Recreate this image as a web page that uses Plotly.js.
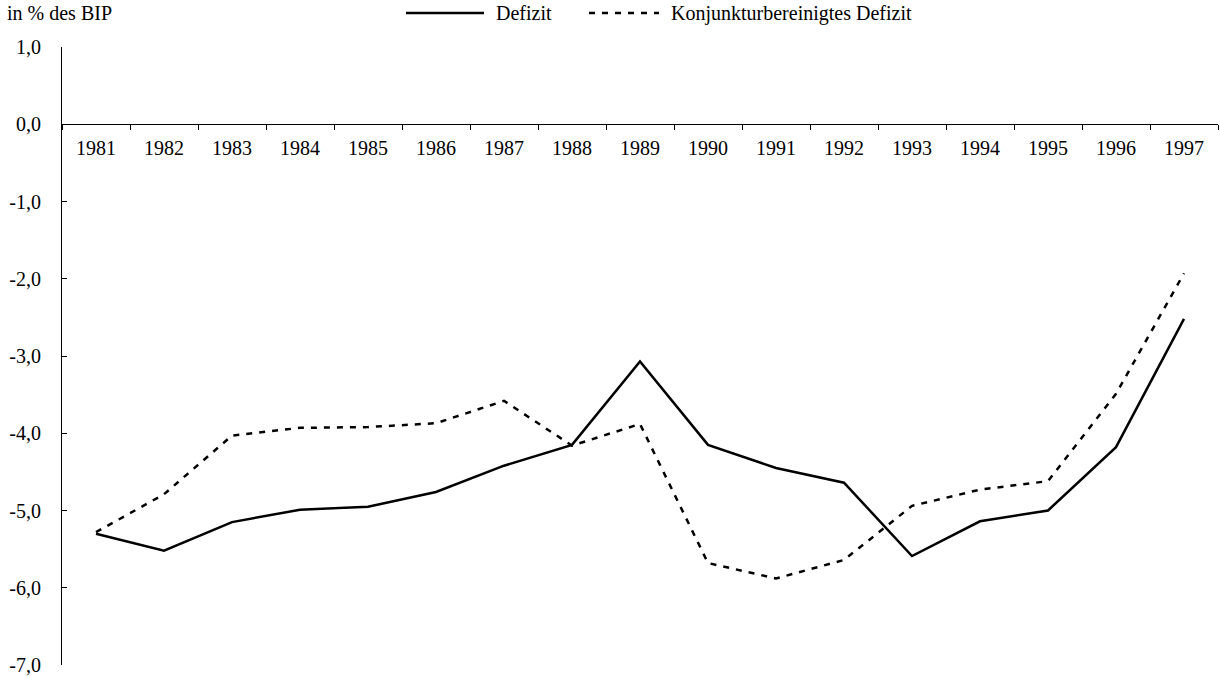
<!DOCTYPE html>
<html><head><meta charset="utf-8">
<script src="https://cdn.plot.ly/plotly-3.0.1.min.js"></script>
<style>body{margin:0;background:#fff}#chart{width:1220px;height:676px}</style>
</head><body><div id="chart"></div>
<script>
const years = ['1981','1982','1983','1984','1985','1986','1987','1988','1989','1990','1991','1992','1993','1994','1995','1996','1997'];
const defizit = [-5.30,-5.52,-5.15,-4.99,-4.95,-4.76,-4.42,-4.15,-3.07,-4.15,-4.45,-4.64,-5.59,-5.14,-5.00,-4.18,-2.52];
const konjDefizit = [-5.28,-4.79,-4.03,-3.93,-3.92,-3.87,-3.58,-4.16,-3.88,-5.68,-5.88,-5.64,-4.94,-4.73,-4.62,-3.49,-1.93];
const seriesNames = ['Defizit','Konjunkturbereinigtes Defizit'];
const yTickVals = [-7,-6,-5,-4,-3,-2,-1,0,1];
const yTickText = ['-7,0','-6,0','-5,0','-4,0','-3,0','-2,0','-1,0','0,0','1,0'];
const yTitle = 'in % des BIP';

const font = {family:'"Liberation Serif", "Times New Roman", serif', size:20, color:'#000'};

const traces = [
  {x:years, y:defizit, type:'scatter', mode:'lines', name:seriesNames[0],
   line:{color:'#000', width:2.5}, showlegend:false},
  {x:years, y:konjDefizit, type:'scatter', mode:'lines', name:seriesNames[1],
   line:{color:'#000', width:2.5, dash:'6px,7px'}, showlegend:false}
];

const legY = 1 + (47 - 13) / 618;
const px = v => (v - 62) / 1156;

const layout = {
  width:1220, height:676,
  margin:{l:62, r:2, t:47, b:11},
  paper_bgcolor:'#fff', plot_bgcolor:'#fff',
  font:font,
  showlegend:false,
  xaxis:{type:'category', range:[-0.5,16.5], anchor:'free', position:0.875,
    showline:true, linecolor:'#000', linewidth:1, showgrid:false, zeroline:false,
    ticks:'outside', tickson:'boundaries', ticklen:5, tickcolor:'#000', tickwidth:1,
    ticklabelstandoff:6, tickfont:font, fixedrange:true},
  yaxis:{range:[-7,1], tickmode:'array', tickvals:yTickVals, ticktext:yTickText,
    showline:true, linecolor:'#000', linewidth:1, showgrid:false, zeroline:false,
    ticks:'inside', ticklen:5, tickcolor:'#000', tickwidth:1,
    ticklabelstandoff:16, tickfont:font, fixedrange:true},
  shapes:[
    {type:'line', xref:'paper', yref:'paper', x0:px(406), x1:px(484), y0:legY, y1:legY,
     line:{color:'#000', width:2.5}},
    {type:'line', xref:'paper', yref:'paper', x0:px(589), x1:px(659), y0:legY, y1:legY,
     line:{color:'#000', width:2.5, dash:'6px,7px'}}
  ],
  annotations:[
    {text:yTitle, xref:'paper', yref:'paper', x:px(5), y:legY, xanchor:'left', yanchor:'middle', showarrow:false, font:font},
    {text:seriesNames[0], xref:'paper', yref:'paper', x:px(494), y:legY, xanchor:'left', yanchor:'middle', showarrow:false, font:font},
    {text:seriesNames[1], xref:'paper', yref:'paper', x:px(669), y:legY, xanchor:'left', yanchor:'middle', showarrow:false, font:font}
  ]
};

Plotly.newPlot('chart', traces, layout, {displayModeBar:false, staticPlot:true});
</script>
</body></html>
